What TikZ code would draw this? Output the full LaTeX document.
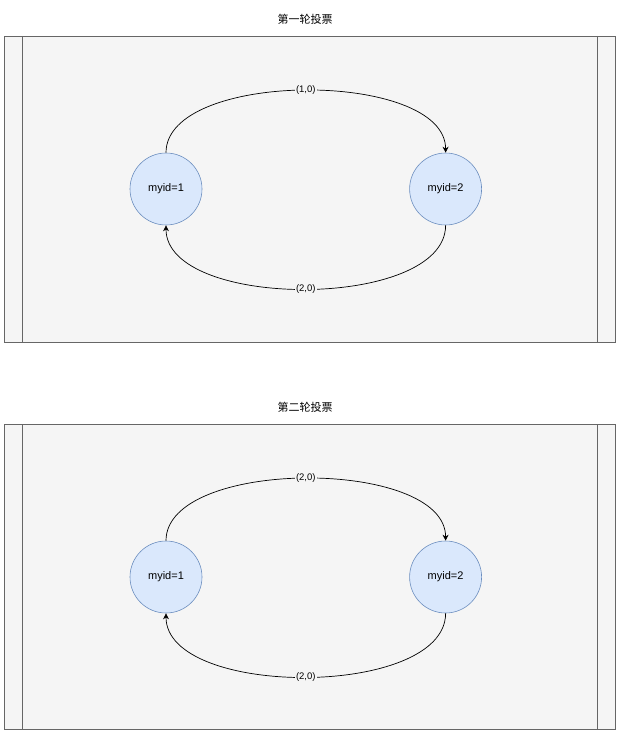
\documentclass[tikz,border=0pt]{standalone}
\usepackage{fontspec}
\setmainfont{Liberation Sans}
\newfontfamily\cjk{Noto Sans CJK SC}
\usetikzlibrary{positioning,arrows.meta}
\definecolor{panelbg}{HTML}{F5F5F5}
\definecolor{panelline}{HTML}{666666}
\definecolor{nodefill}{HTML}{DAE8FC}
\definecolor{nodeline}{HTML}{6C8EBF}
\tikzset{main node/.style={circle,fill=nodefill,draw=nodeline,line width=0.6pt,minimum size=72pt,inner sep=0pt,font=\fontsize{11}{13}\selectfont},
  vote/.style={fill=panelbg,inner sep=1pt,font=\fontsize{9.5}{11}\selectfont},
  title/.style={font=\cjk\fontsize{11}{13}\selectfont},
  panel/.style={fill=panelbg,draw=panelline,line width=0.8pt},
  edge/.style={draw,line width=0.7pt,-{Stealth[length=6pt,width=6pt]}},}

\begin{document}
\begin{tikzpicture}[x=1pt,y=-1pt]
      \useasboundingbox (0,0) rectangle (621,735);

      % first round
      \node[title] (t1) at (305,19) {第一轮投票};
      \draw[panel] (4,36) rectangle (615,342);
      \draw[panelline,line width=0.8pt] (22,36) -- (22,342) (597,36) -- (597,342);
      \node[main node] (1) at (166,189) {myid=1};
      \node[main node] (2) [right = 207pt of 1] {myid=2};

      \path[edge]
        (1.north) .. controls +(0,-83) and +(0,-83) .. node[vote] {(1,0)} (2.north);
      \path[edge]
        (2.south) .. controls +(0,85) and +(0,85) .. node[vote] {(2,0)} (1.south);

      % second round
      \node[title] (t2) at (305,407) {第二轮投票};
      \draw[panel] (4,424) rectangle (615,729);
      \draw[panelline,line width=0.8pt] (22,424) -- (22,729) (597,424) -- (597,729);
      \node[main node] (3) at (166,577) {myid=1};
      \node[main node] (4) [right = 207pt of 3] {myid=2};

      \path[edge]
        (3.north) .. controls +(0,-83) and +(0,-83) .. node[vote] {(2,0)} (4.north);
      \path[edge]
        (4.south) .. controls +(0,85) and +(0,85) .. node[vote] {(2,0)} (3.south);

    \end{tikzpicture}
\end{document}
